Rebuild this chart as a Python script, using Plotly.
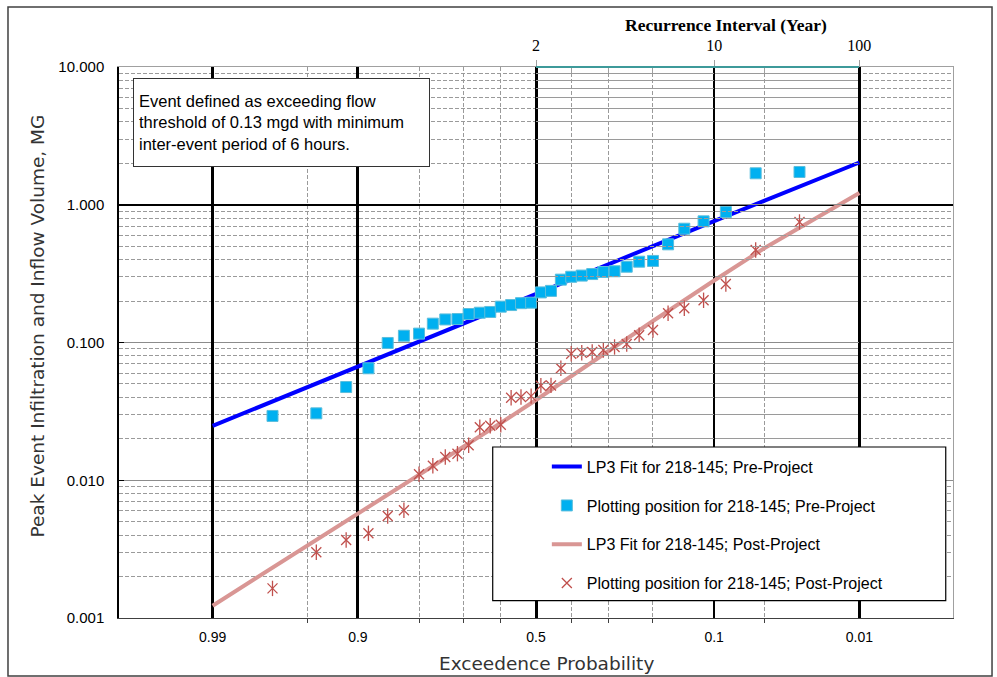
from statistics import NormalDist
import plotly.graph_objects as go

# ---------------- data ----------------
# plotting positions (exceedance probability) shared by both data sets
plot_pos = [0.971, 0.943, 0.914, 0.886, 0.857, 0.829, 0.800, 0.771, 0.743, 0.714,
            0.686, 0.657, 0.629, 0.600, 0.571, 0.543, 0.514, 0.486, 0.457, 0.429,
            0.400, 0.371, 0.343, 0.314, 0.286, 0.257, 0.229, 0.200, 0.171, 0.143,
            0.114, 0.086, 0.057, 0.029]

pre_volume = [0.0293, 0.0306, 0.0475, 0.0650, 0.0992, 0.112, 0.116, 0.137, 0.147, 0.148,
              0.161, 0.1645, 0.1666, 0.182, 0.187, 0.193, 0.1945, 0.231, 0.237, 0.286,
              0.300, 0.306, 0.314, 0.325, 0.329, 0.355, 0.386, 0.391, 0.516, 0.670,
              0.758, 0.886, 1.692, 1.729]

post_volume = [0.00164, 0.00300, 0.00368, 0.00412, 0.00550, 0.00605, 0.01105, 0.01275, 0.01475, 0.01559,
               0.01794, 0.02424, 0.02489, 0.0253, 0.0397, 0.0402, 0.0408, 0.0486, 0.0488, 0.0650,
               0.0829, 0.0843, 0.0853, 0.0882, 0.0928, 0.0975, 0.1128, 0.1232, 0.163, 0.1771,
               0.2025, 0.2659, 0.4693, 0.7497]

fit_exceed = [0.99, 0.95, 0.9, 0.8, 0.7, 0.6, 0.5, 0.4, 0.3, 0.2, 0.1, 0.05, 0.01]
pre_fit = [0.0248, 0.0475, 0.0672, 0.1021, 0.1379, 0.1784, 0.2268, 0.2883, 0.3724, 0.5024,
           0.7603, 1.070, 2.026]
post_fit = [0.001228, 0.003332, 0.005735, 0.01092, 0.01744, 0.02603, 0.03825, 0.05711, 0.08747,
            0.1432, 0.2819, 0.4853, 1.217]

major_probs = [0.99, 0.9, 0.5, 0.1, 0.01]
major_labels = ["0.99", "0.9", "0.5", "0.1", "0.01"]
minor_probs = [0.95, 0.8, 0.7, 0.6, 0.4, 0.3, 0.2, 0.05]

recurrence_years = [2, 10, 100]
recurrence_labels = ["2", "10", "100"]
recurrence_minor = [2.5, 10 / 3, 5, 20]

y_ticks = [0.001, 0.01, 0.1, 1, 10]
y_labels = ["0.001", "0.010", "0.100", "1.000", "10.000"]
y_minor = [m * 10 ** e for e in range(-3, 1) for m in range(2, 10)]

# ---------------- probability scale ----------------
nd = NormalDist()


def zpos(p):
    return nd.inv_cdf(1 - p)


XR = [-3, 3]
YR = [-3, 1]
STAR = "#C0504D"

fig = go.Figure()

fig.add_trace(go.Scatter(
    x=[zpos(p) for p in fit_exceed], y=pre_fit, mode="lines",
    line=dict(color="#0000FF", width=4),
    name="LP3 Fit for 218-145; Pre-Project", legendgroup="a", legendrank=1))
fig.add_trace(go.Scatter(
    x=[zpos(p) for p in fit_exceed], y=post_fit, mode="lines",
    line=dict(color="#D99694", width=4),
    name="LP3 Fit for 218-145; Post-Project", legendgroup="c", legendrank=3))
fig.add_trace(go.Scatter(
    x=[zpos(p) for p in plot_pos], y=pre_volume, mode="markers",
    marker=dict(symbol="square", size=11, color="#00B0F0",
                line=dict(color="#5BBEDC", width=1)),
    name="Plotting position for 218-145; Pre-Project", legendgroup="b", legendrank=2))
fig.add_trace(go.Scatter(
    x=[zpos(p) for p in plot_pos], y=post_volume, mode="markers",
    marker=dict(symbol="x-thin-open", size=10, color=STAR,
                line=dict(color=STAR, width=1.3)),
    name="Plotting position for 218-145; Post-Project", legendgroup="d", legendrank=4))
fig.add_trace(go.Scatter(
    x=[zpos(p) for p in plot_pos], y=post_volume, mode="markers",
    marker=dict(symbol="line-ns-open", size=11, color=STAR,
                line=dict(color=STAR, width=1.3)),
    showlegend=False, legendgroup="d", hoverinfo="skip"))

# empty traces so the overlay / secondary axes get drawn
for xa, ya in [("x2", "y"), ("x3", "y"), ("x4", "y"), ("x", "y2")]:
    fig.add_trace(go.Scatter(x=[], y=[], xaxis=xa, yaxis=ya, showlegend=False,
                             hoverinfo="skip", mode="markers"))

base_font = dict(family="Liberation Sans, Arial, sans-serif", color="#000000")
dash = "4px,2px"

z2 = zpos(1 / recurrence_years[0])
z100 = zpos(1 / recurrence_years[-1])

fig.update_layout(
    width=997, height=677,
    margin=dict(l=119, r=44, t=67, b=59),
    paper_bgcolor="white", plot_bgcolor="rgba(0,0,0,0)",
    showlegend=True,
    xaxis=dict(
        range=XR, domain=[0, 1], anchor="y",
        tickmode="array", tickvals=[zpos(p) for p in major_probs], ticktext=major_labels,
        showgrid=False, zeroline=False, ticks="",
        showline=True, linecolor="#404040", linewidth=1,
        tickfont=dict(size=14, **base_font), ticklabelstandoff=6,
        minor=dict(tickmode="array", tickvals=[zpos(p) for p in minor_probs],
                   showgrid=True, griddash=dash, gridcolor="#9A9A9A", gridwidth=1,
                   ticks="outside", ticklen=4, tickcolor="#404040"),
    ),
    xaxis3=dict(
        range=XR, overlaying="x", anchor="y", side="top",
        tickmode="array", tickvals=[zpos(p) for p in major_probs if p != 0.1],
        showgrid=True, gridcolor="#000000", gridwidth=2.5, zeroline=False,
        showticklabels=False, ticks="",
        showline=True, linecolor="#A0A0A0", linewidth=1,
    ),
    xaxis4=dict(
        range=XR, overlaying="x", anchor="y",
        tickmode="array", tickvals=[zpos(0.1)],
        showgrid=True, gridcolor="#000000", gridwidth=1.5, zeroline=False,
        showticklabels=False, ticks="", showline=False,
    ),
    xaxis2=dict(
        range=[z2, z100], domain=[(z2 - XR[0]) / (XR[1] - XR[0]), (z100 - XR[0]) / (XR[1] - XR[0])],
        anchor="free", position=1, side="top",
        tickmode="array", tickvals=[zpos(1 / t) for t in recurrence_years], ticktext=recurrence_labels,
        showgrid=False, zeroline=False,
        ticks="outside", ticklen=6, tickcolor="#A0A0A0",
        showline=True, linecolor="#3E9A9A", linewidth=1.5,
        tickfont=dict(family="Liberation Serif, Times New Roman, serif", size=16, color="#000000"),
        ticklabelstandoff=3,
        minor=dict(tickmode="array", tickvals=[zpos(1 / t) for t in recurrence_minor],
                   ticks="inside", ticklen=5, tickcolor="#A0A0A0", showgrid=False),
    ),
    yaxis=dict(
        type="log", range=YR, domain=[0, 1], anchor="x",
        tickmode="array", tickvals=y_ticks, ticktext=y_labels,
        showgrid=True, gridcolor="#8C8C8C", gridwidth=1, zeroline=False,
        ticks="inside", ticklen=5, tickcolor="#000000",
        showline=True, linecolor="#000000", linewidth=1.5,
        tickfont=dict(size=15, **base_font), ticklabelstandoff=10,
        minor=dict(tickmode="array", tickvals=y_minor, showgrid=True,
                   griddash=dash, gridcolor="#9A9A9A", gridwidth=1, ticks=""),
    ),
    yaxis2=dict(
        type="log", range=YR, overlaying="y", anchor="x", side="right",
        tickmode="array", tickvals=[1],
        showgrid=True, gridcolor="#000000", gridwidth=2, zeroline=False,
        showticklabels=False, ticks="",
        showline=True, linecolor="#A0A0A0", linewidth=1,
    ),
    legend=dict(
        x=0.513, y=0.3054, xanchor="left", yanchor="top",
        bgcolor="rgba(0,0,0,0)", borderwidth=0,
        font=dict(size=16, **base_font),
        tracegroupgap=15, itemwidth=30,
    ),
)

# outer chart frame and legend frame (layout decoration, paper coords)
fig.add_shape(type="rect", xref="paper", yref="paper",
              x0=-0.1331, x1=1.0468, y0=-0.1053, y1=1.1089,
              line=dict(color="#404040", width=1.5), fillcolor="rgba(0,0,0,0)", layer="above")
fig.add_shape(type="rect", xref="paper", yref="paper",
              x0=0.4481, x1=0.9913, y0=0.0314, y1=0.3103,
              line=dict(color="#000000", width=1.2), fillcolor="white", layer="above")

# text box
fig.add_annotation(
    xref="paper", yref="paper", x=0.0168, y=0.980, xanchor="left", yanchor="top",
    text="Event defined as exceeding flow<br>threshold of 0.13 mgd with minimum<br>inter-event period of 6 hours.",
    align="left", valign="middle", showarrow=False,
    width=285, height=77, borderpad=5, bordercolor="#333333", borderwidth=1, bgcolor="white",
    font=dict(family="Liberation Sans, Arial, sans-serif", size=16.5, color="#000000"),
)

# axis titles
fig.add_annotation(
    xref="paper", yref="paper", x=0.7278, y=1.0762, xanchor="center", yanchor="middle",
    text="<b>Recurrence Interval (Year)</b>", showarrow=False,
    font=dict(family="Liberation Serif, Times New Roman, serif", size=17.5, color="#000000"))
fig.add_annotation(
    xref="paper", yref="paper", x=-0.0971, y=0.529, xanchor="center", yanchor="middle",
    text="Peak Event Infiltration and Inflow Volume, MG", textangle=-90, showarrow=False,
    font=dict(family="DejaVu Sans, Verdana, sans-serif", size=18.5, color="#333333"))
fig.add_annotation(
    xref="paper", yref="paper", x=0.512, y=-0.0817, xanchor="center", yanchor="middle",
    text="Exceedence Probability", showarrow=False,
    font=dict(family="DejaVu Sans, Verdana, sans-serif", size=18.5, color="#333333"))

fig.write_html("out.html")
